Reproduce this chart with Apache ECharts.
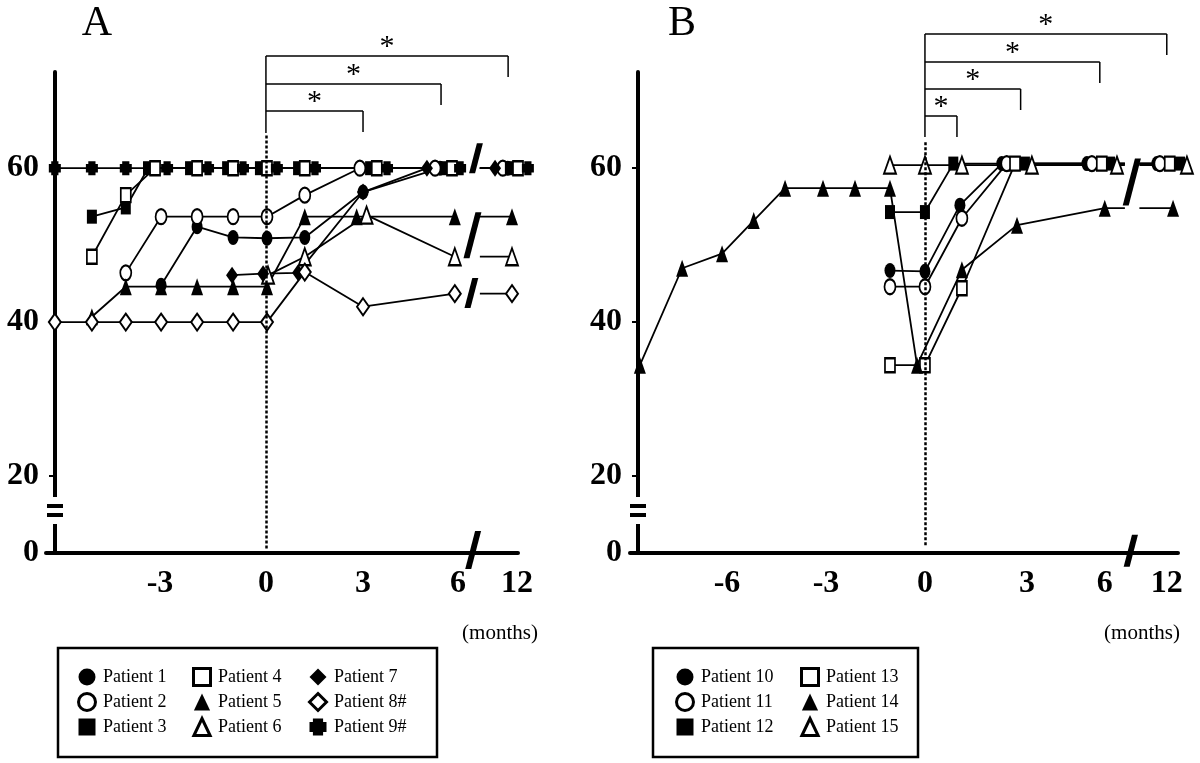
<!DOCTYPE html>
<html>
<head>
<meta charset="utf-8">
<script src="https://cdn.jsdelivr.net/npm/echarts@6/dist/echarts.min.js"></script>
<style>
  html, body { margin: 0; padding: 0; background: #fff; }
  #chart { width: 1200px; height: 763px; }
</style>
</head>
<body>
<div id="chart"></div>
<script>
const FONT = "'Liberation Serif', 'Times New Roman', serif";

// x = position on the drawn time axis (1 unit ~ 1 month before treatment),
// y = score.
// Panel A
const p1 = [[-2.97, 44.8], [-1.95, 52.4], [-0.93, 51.0], [0.03, 50.9], [1.10, 51.0], [2.75, 56.9], [4.93, 60]];
const p2 = [[-3.97, 46.4], [-2.97, 53.7], [-1.95, 53.7], [-0.93, 53.7], [0.03, 53.7], [1.10, 56.5], [2.66, 60], [4.79, 60]];
const p3 = [[-4.93, 53.7], [-3.97, 54.9], [-3.34, 60], [-2.15, 60], [-1.10, 60], [-0.17, 60], [0.91, 60], [2.95, 60], [5.10, 60]];
const p4 = [[-4.93, 48.5], [-3.97, 56.5], [-3.14, 60], [-1.95, 60], [-0.93, 60], [0.03, 60], [1.10, 60], [3.14, 60], [5.27, 60]];
const p5 = [[-4.93, 40.7], [-3.97, 44.6], [-2.97, 44.6], [-1.95, 44.6], [-0.93, 44.6], [0.03, 44.6], [1.10, 53.7], [2.57, 53.7], [5.35, 53.7]];
const p6 = [[0.06, 46.1], [1.10, 48.5], [2.85, 53.9], [5.35, 48.5]];
const p7 = [[-0.96, 46.1], [-0.08, 46.3], [0.91, 46.4], [2.75, 56.9], [4.56, 60]];
const p8 = [[-5.98, 40], [-4.93, 40], [-3.97, 40], [-2.97, 40], [-1.95, 40], [-0.93, 40], [0.03, 40], [1.10, 46.5], [2.75, 42.0], [5.35, 43.7]];
const p9 = [[-5.98, 60], [-4.93, 60], [-3.97, 60], [-2.80, 60], [-1.64, 60], [-0.65, 60], [0.31, 60], [1.39, 60], [3.43, 60], [5.50, 60]];
// 12 months (past the axis break), patients 1..9
const at12A = [[6.85, 60], [6.71, 60], [6.91, 60], [7.14, 60], [6.97, 53.7], [6.97, 48.5], [6.49, 60], [6.97, 43.7], [7.42, 60]];

// Panel B
const p10 = [[-1.06, 46.7], [0, 46.6], [1.06, 55.2], [2.33, 60.6], [4.91, 60.6]];
const p11 = [[-1.06, 44.6], [0, 44.6], [1.12, 53.5], [2.48, 60.6], [5.06, 60.6]];
const p12 = [[-1.06, 54.3], [0, 54.3], [0.86, 60.6], [3.03, 60.6], [5.61, 60.6]];
const p13 = [[-1.06, 34.4], [0, 34.4], [1.12, 44.4], [2.73, 60.6], [5.36, 60.6]];
const p14 = [[-8.64, 34.4], [-7.36, 47.0], [-6.15, 48.9], [-5.19, 53.2], [-4.24, 57.4], [-3.09, 57.4], [-2.12, 57.4], [-1.06, 57.4], [-0.24, 34.4], [1.12, 46.8], [2.79, 52.6], [5.45, 54.8]];
const p15 = [[-1.06, 60.4], [0, 60.4], [1.12, 60.4], [3.24, 60.4], [5.82, 60.4]];
const at12B = [[7.03, 60.6], [7.12, 60.6], [7.73, 60.6], [7.42, 60.6], [7.52, 54.8], [7.94, 60.4]];

// axis ticks
const xTicksA = [-3, 0, 2.75, 5.44, 7.11];
const xTickLabelsA = ["-3", "0", "3", "6", "12"];
const xTicksB = [-6, -3, 0, 3.09, 5.45, 7.33];
const xTickLabelsB = ["-6", "-3", "0", "3", "6", "12"];
const yTicks = [10, 20, 40, 60];
const yTickLabels = ["0", "20", "40", "60"];

// significance brackets: from 0 to these time positions
const bracketEndsA = [2.75, 4.96, 6.86];
const bracketEndsB = [0.97, 2.9, 5.3, 7.33];

const SYM_CROSS = "path://M2,0H8V2H10V8H8V10H2V8H0V2H2Z";
// legend icons keep their own proportions when given as paths
const LEGEND_ICON = {
  circle: "circle",
  rect: "path://M0,0H10V10H0Z",
  triangle: "path://M5,0L10,10.5H0Z",
  diamond: "path://M5,0L10,5L5,10L0,5Z",
};
LEGEND_ICON[SYM_CROSS] = SYM_CROSS;

const patientsA = [
  { name: "Patient 1", sym: "circle", open: false, pts: p1, end: at12A[0] },
  { name: "Patient 2", sym: "circle", open: true, pts: p2, end: at12A[1] },
  { name: "Patient 3", sym: "rect", open: false, pts: p3, end: at12A[2] },
  { name: "Patient 4", sym: "rect", open: true, pts: p4, end: at12A[3] },
  { name: "Patient 5", sym: "triangle", open: false, pts: p5, end: at12A[4] },
  { name: "Patient 6", sym: "triangle", open: true, pts: p6, end: at12A[5] },
  { name: "Patient 7", sym: "diamond", open: false, pts: p7, end: at12A[6] },
  { name: "Patient 8#", sym: "diamond", open: true, pts: p8, end: at12A[7] },
  { name: "Patient 9#", sym: SYM_CROSS, open: false, pts: p9, end: at12A[8] },
];
const patientsB = [
  { name: "Patient 10", sym: "circle", open: false, pts: p10, end: at12B[0] },
  { name: "Patient 11", sym: "circle", open: true, pts: p11, end: at12B[1] },
  { name: "Patient 12", sym: "rect", open: false, pts: p12, end: at12B[2] },
  { name: "Patient 13", sym: "rect", open: true, pts: p13, end: at12B[3] },
  { name: "Patient 14", sym: "triangle", open: false, pts: p14, end: at12B[4] },
  { name: "Patient 15", sym: "triangle", open: true, pts: p15, end: at12B[5] },
];

const SIZES = {
  circle: [11, 15], rect: [10, 14], triangle: [12, 17], diamond: [12, 17],
};
SIZES[SYM_CROSS] = [12, 14];

// where the 6 -> 12 month lines stop / restart around the break
const breakA = { start: null, end: 6.06 };
const breakB = { start: 6.06, end: 6.5 };

function nearestLabel(ticks, labels, v) {
  let best = 0;
  ticks.forEach((t, i) => {
    if (Math.abs(t - v) < Math.abs(ticks[best] - v)) best = i;
  });
  return labels[best];
}

const AXIS_TEXT = { fontFamily: FONT, fontSize: 32, fontWeight: "bold", color: "#000" };

function xAxisFor(grid, min, max, ticks, labels) {
  return {
    gridIndex: grid, type: "value", min, max,
    axisLine: { onZero: false, lineStyle: { color: "#000", width: 4 } },
    axisTick: { show: false },
    splitLine: { show: false },
    axisLabel: { customValues: ticks, formatter: (v) => nearestLabel(ticks, labels, v), margin: 15, ...AXIS_TEXT },
  };
}

function yAxisFor(grid, offset) {
  return {
    gridIndex: grid, type: "value", min: 10, max: 72.5, offset,
    axisLine: { show: true, onZero: false, lineStyle: { color: "#000", width: 4 } },
    axisTick: { show: true, customValues: [20, 40, 60], length: 6, lineStyle: { color: "#000", width: 2 } },
    splitLine: { show: false },
    axisLabel: { customValues: yTicks, formatter: (v) => nearestLabel(yTicks, yTickLabels, v), margin: 16, ...AXIS_TEXT },
  };
}

function buildSeries(p, grid, brk) {
  const data = p.pts.slice();
  const last = p.pts[p.pts.length - 1];
  if (brk.start != null) data.push({ value: [brk.start, last[1]], symbol: "none" });
  data.push([null, null]);
  data.push({ value: [brk.end, p.end[1]], symbol: "none" });
  data.push(p.end);
  return {
    name: p.name,
    type: "line",
    xAxisIndex: grid,
    yAxisIndex: grid,
    data,
    symbol: p.open ? "empty" + p.sym[0].toUpperCase() + p.sym.slice(1) : p.sym,
    symbolSize: SIZES[p.sym],
    showAllSymbol: true,
    clip: false,
    lineStyle: { color: "#000", width: 1.8 },
    itemStyle: p.open
      ? { color: "#000", borderColor: "#000", borderWidth: 2.5 }
      : { color: "#000", borderWidth: 0 },
    emphasis: { disabled: true },
    animation: false,
  };
}

function legendItem(p) {
  return {
    name: p.name,
    icon: LEGEND_ICON[p.sym],
    itemStyle: p.open
      ? { color: "#fff", borderColor: "#000", borderWidth: 3 }
      : { color: "#000", borderWidth: 0 },
  };
}

const legendBase = {
  orient: "vertical", selectedMode: false, padding: 0,
  itemWidth: 22, itemHeight: 17, itemGap: 5, top: 667,
  textStyle: { fontFamily: FONT, fontSize: 18, color: "#000", lineHeight: 20 },
};

const dottedZero = (y0, y1) => ({
  silent: true, symbol: ["none", "none"], animation: false,
  label: { show: false },
  lineStyle: { color: "#000", width: 2.5, type: [3, 2] },
  data: [[{ coord: [0, y0] }, { coord: [0, y1] }]],
});

const seriesA = patientsA.map((p) => buildSeries(p, 0, breakA));
const seriesB = patientsB.map((p) => buildSeries(p, 1, breakB));
seriesA[0].markLine = dottedZero(10.6, 64.3);
seriesB[0].markLine = dottedZero(11.0, 63.6);

const chart = echarts.init(document.getElementById("chart"));
chart.setOption({
  backgroundColor: "#fff",
  animation: false,
  grid: [
    { left: 46, right: 682, top: 72, bottom: 210 },
    { left: 630, right: 22, top: 72, bottom: 210 },
  ],
  xAxis: [
    xAxisFor(0, -6.23, 7.14, xTicksA, xTickLabelsA),
    xAxisFor(1, -8.94, 7.67, xTicksB, xTickLabelsB),
  ],
  yAxis: [yAxisFor(0, -9), yAxisFor(1, -8)],
  legend: [
    { ...legendBase, left: 77, data: patientsA.slice(0, 3).map(legendItem) },
    { ...legendBase, left: 192, data: patientsA.slice(3, 6).map(legendItem) },
    { ...legendBase, left: 308, data: patientsA.slice(6, 9).map(legendItem) },
    { ...legendBase, left: 675, data: patientsB.slice(0, 3).map(legendItem) },
    { ...legendBase, left: 800, data: patientsB.slice(3, 6).map(legendItem) },
  ],
  series: seriesA.concat(seriesB),
});

// decorations: brackets, stars, axis breaks, frames, captions
const px = (grid, x, y) => chart.convertToPixel({ gridIndex: grid }, [x, y]);
const g = [];
const line = (x1, y1, x2, y2, w) =>
  g.push({ type: "line", z: 100, shape: { x1, y1, x2, y2 }, style: { stroke: "#000", lineWidth: w } });

function brackets(grid, ends, tops, bottom) {
  const x0 = px(grid, 0, 40)[0];
  line(x0, Math.min(...tops), x0, bottom, 1.5);
  ends.forEach((e, i) => {
    const x1 = px(grid, e, 40)[0];
    const y = tops[i];
    line(x0, y, x1, y, 1.5);
    line(x1, y, x1, y + 21, 1.5);
    g.push({
      type: "text", z: 100, x: (x0 + x1) / 2, y: y - 9,
      style: { text: "*", fontFamily: FONT, fontSize: 30, fill: "#000", align: "center", verticalAlign: "middle" },
    });
  });
}
brackets(0, bracketEndsA, [111, 84, 56], 133);
brackets(1, bracketEndsB, [116, 89, 62, 34], 137);

function slash(grid, x, y, h) {
  const [cx, cy] = px(grid, x, y);
  const l = h * 0.26, t = 6;
  g.push({
    type: "polygon", z: 101,
    shape: { points: [
      [cx - l / 2 - t / 2, cy + h / 2], [cx - l / 2 + t / 2, cy + h / 2],
      [cx + l / 2 + t / 2, cy - h / 2], [cx + l / 2 - t / 2, cy - h / 2],
    ] },
    style: { fill: "#000" },
  });
}
slash(0, 5.95, 61.3, 30);
slash(0, 5.85, 51.3, 46);
slash(0, 5.82, 43.8, 30);
slash(0, 5.87, 10.4, 38);
slash(1, 6.27, 58.2, 47);
slash(1, 6.24, 10.3, 32);

// "=" break on the y axes
[55, 638].forEach((ax) => {
  g.push({ type: "rect", z: 100, shape: { x: ax - 4, y: 497, width: 8, height: 27 }, style: { fill: "#fff" } });
  g.push({ type: "rect", z: 101, shape: { x: ax - 8, y: 504, width: 16, height: 4 }, style: { fill: "#000" } });
  g.push({ type: "rect", z: 101, shape: { x: ax - 8, y: 513, width: 16, height: 4 }, style: { fill: "#000" } });
});

// legend frames
g.push({ type: "rect", z: 100, shape: { x: 58, y: 648, width: 379, height: 109 }, style: { fill: "none", stroke: "#000", lineWidth: 2.5 } });
g.push({ type: "rect", z: 100, shape: { x: 653, y: 648, width: 265, height: 109 }, style: { fill: "none", stroke: "#000", lineWidth: 2.5 } });

// captions
const caption = (text, x, y, size) => g.push({
  type: "text", z: 100, x, y,
  style: { text, fontFamily: FONT, fontSize: size, fill: "#000", align: "center", verticalAlign: "middle" },
});
caption("A", 97, 24, 42);
caption("B", 682, 24, 42);
caption("(months)", 500, 633, 21);
caption("(months)", 1142, 633, 21);

chart.setOption({ graphic: g });
</script>
</body>
</html>
